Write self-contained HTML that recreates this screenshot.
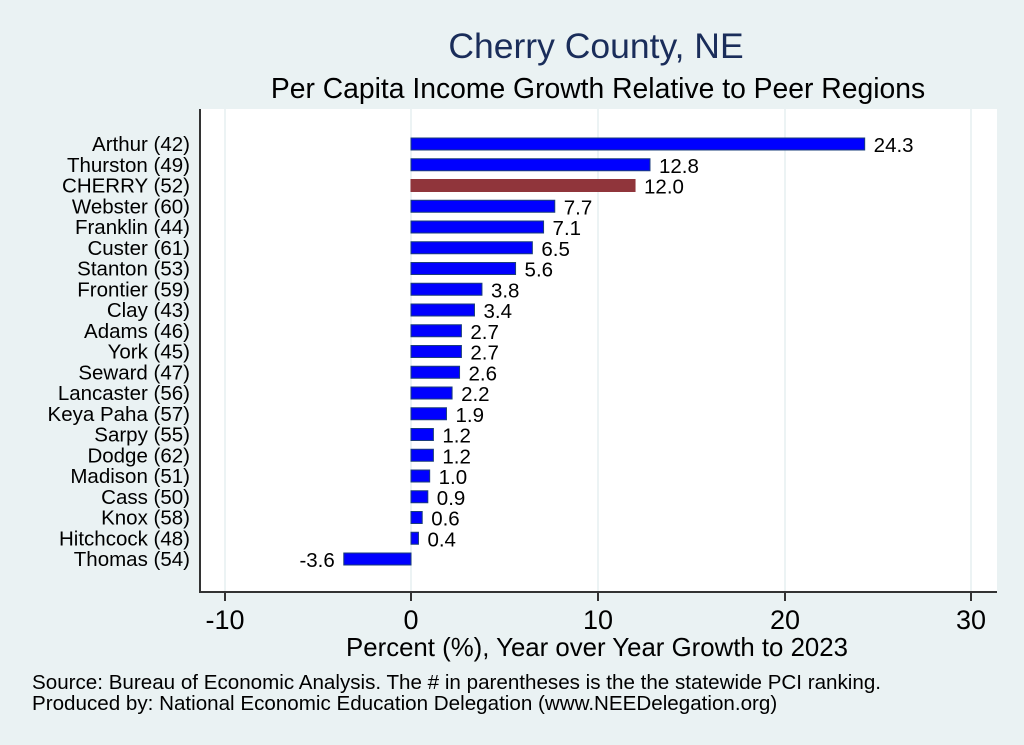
<!DOCTYPE html>
<html><head><style>body{margin:0;background:#eaf2f3}svg{display:block}text{font-family:"Liberation Sans",sans-serif}</style></head><body>
<svg width="1024" height="745" viewBox="0 0 1024 745">
<rect width="1024" height="745" fill="#eaf2f3"/>
<text x="596" y="58" font-size="35.5" fill="#1a2d5a" text-anchor="middle">Cherry County, NE</text>
<text x="598" y="98" font-size="28.3" fill="#000" text-anchor="middle">Per Capita Income Growth Relative to Peer Regions</text>
<rect x="200" y="109" width="797" height="483" fill="#fff"/>
<g stroke="#e6eff1" stroke-width="1.5">
<line x1="411" y1="109" x2="411" y2="592"/><line x1="598" y1="109" x2="598" y2="592"/><line x1="785" y1="109" x2="785" y2="592"/><line x1="971" y1="109" x2="971" y2="592"/><line x1="225" y1="109" x2="225" y2="592"/>
</g>
<g id="bars"></g>
<line x1="200" y1="109" x2="200" y2="593" stroke="#333" stroke-width="2"/>
<line x1="199" y1="592" x2="997" y2="592" stroke="#333" stroke-width="2"/>
<g stroke="#333" stroke-width="2"><line x1="225" y1="592" x2="225" y2="601"/><line x1="411" y1="592" x2="411" y2="601"/><line x1="598" y1="592" x2="598" y2="601"/><line x1="785" y1="592" x2="785" y2="601"/><line x1="971" y1="592" x2="971" y2="601"/></g>
<g font-size="27" text-anchor="middle"><text x="225" y="629">-10</text><text x="411" y="629">0</text><text x="598" y="629">10</text><text x="785" y="629">20</text><text x="971" y="629">30</text></g>
<text x="597" y="656" font-size="25.8" text-anchor="middle">Percent (%), Year over Year Growth to 2023</text>
<text x="32" y="689" font-size="20.6">Source: Bureau of Economic Analysis. The # in parentheses is the the statewide PCI ranking.</text>
<text x="32" y="710" font-size="20.6">Produced by: National Economic Education Delegation (www.NEEDelegation.org)</text>
<g id="g" font-size="20.5"></g>
</svg>
<script>
const d=[["Arthur (42)",24.3],["Thurston (49)",12.8],["CHERRY (52)",12.0],["Webster (60)",7.7],["Franklin (44)",7.1],["Custer (61)",6.5],["Stanton (53)",5.6],["Frontier (59)",3.8],["Clay (43)",3.4],["Adams (46)",2.7],["York (45)",2.7],["Seward (47)",2.6],["Lancaster (56)",2.2],["Keya Paha (57)",1.9],["Sarpy (55)",1.2],["Dodge (62)",1.2],["Madison (51)",1.0],["Cass (50)",0.9],["Knox (58)",0.6],["Hitchcock (48)",0.4],["Thomas (54)",-3.6]];
let s="",t="";const sc=18.67,x0=411;
d.forEach((r,i)=>{const c=144+i*20.75;const w=r[1]*sc;const x=w>=0?x0:x0+w;const red=r[0].startsWith("CHERRY");
s+=`<rect x="${x}" y="${c-6}" width="${Math.abs(w)}" height="12" fill="${red?'#90353b':'#0000ff'}" stroke="${red?'#90353b':'#1a3d7a'}" stroke-width="1"/>`;
t+=`<text x="190" y="${c+7}" text-anchor="end">${r[0]}</text>`;
t+=w>=0?`<text x="${x0+w+9}" y="${c+8}">${r[1].toFixed(1)}</text>`:`<text x="${x0+w-9}" y="${c+8}" text-anchor="end">${r[1].toFixed(1)}</text>`;});
document.getElementById("bars").innerHTML=s;document.getElementById("g").innerHTML=t;
</script>
</body></html>
